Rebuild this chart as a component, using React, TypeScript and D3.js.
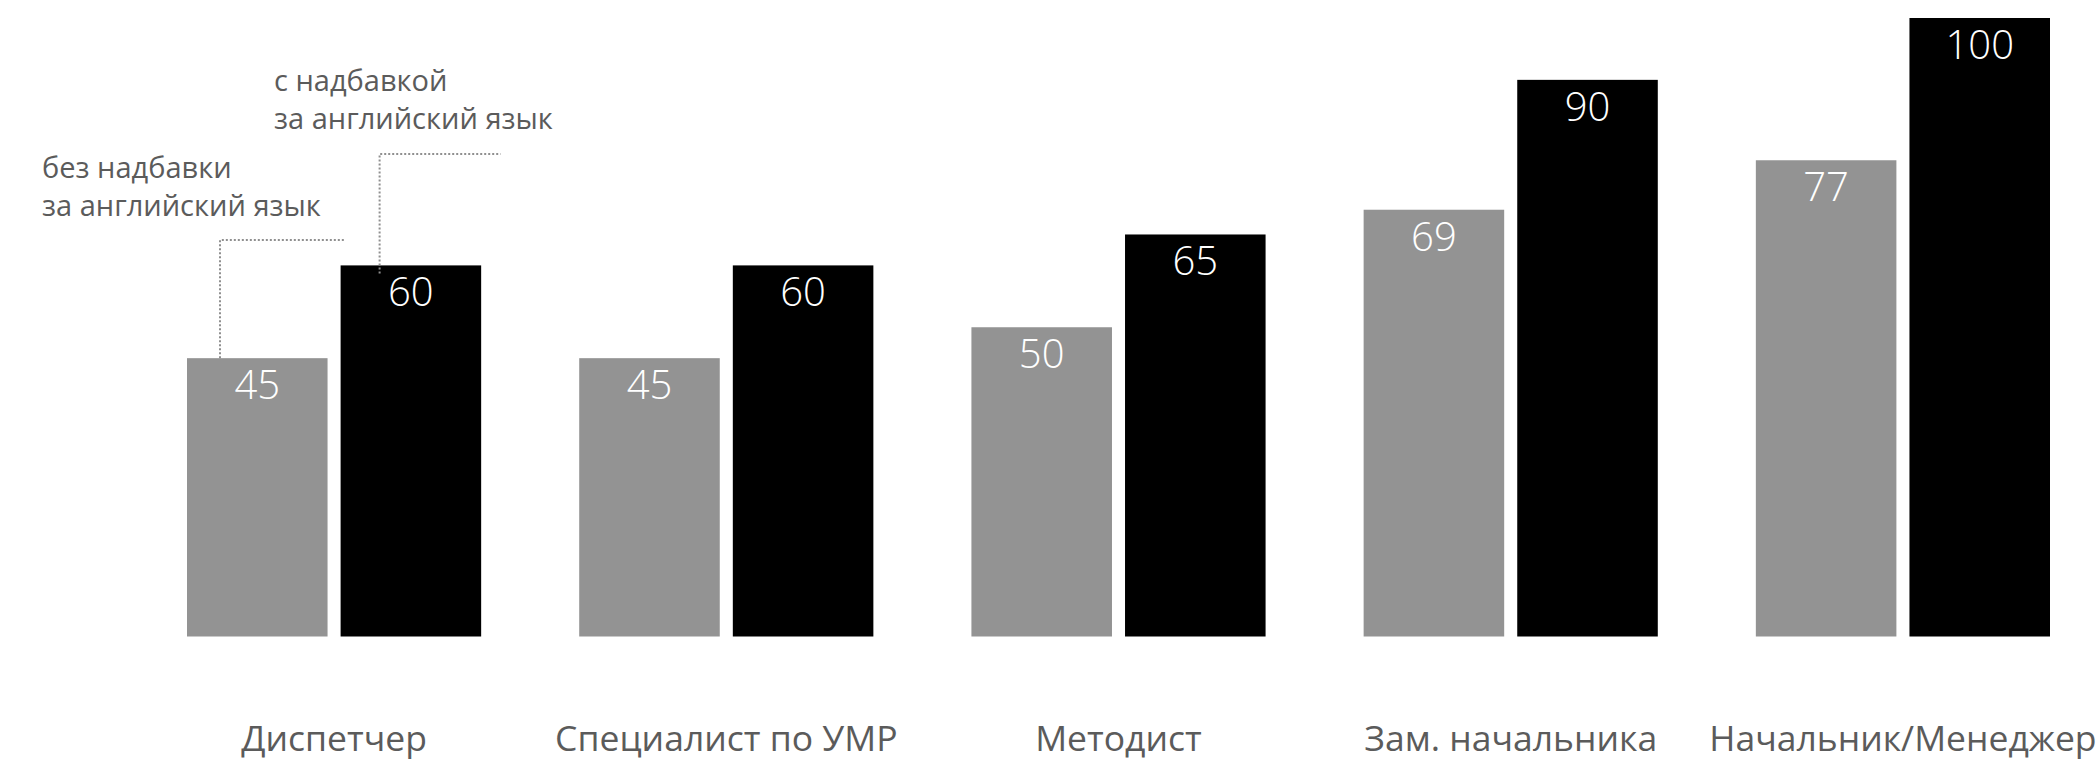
import React from "react";
import * as d3 from "d3";

const categories = ["Диспетчер", "Специалист по УМР", "Методист", "Зам. начальника", "Начальник/Менеджер"];
const seriesKeys = ["without", "with"];
const withoutBonus = [45, 45, 50, 69, 77];
const withBonus = [60, 60, 65, 90, 100];
const legendWithout = ["без надбавки", "за английский язык"];
const legendWith = ["с надбавкой", "за английский язык"];

const W = 2100;
const H = 761;
const FONT = "'Open Sans', 'Noto Sans', sans-serif";
const TEXT_COLOR = "#5b5b5b";
const GRAY = "#939393";

export default function App() {
  const x0 = d3.scaleBand<string>().domain(categories).range([187, 2050]).paddingInner(0.25).paddingOuter(0);
  const x1 = d3.scaleBand<string>().domain(seriesKeys).range([0, x0.bandwidth()]).paddingInner(0.085);
  const y = d3.scaleLinear().domain([0, 100]).range([636.5, 18]);

  const rows = categories.map((c, i) => ({ c, vals: [withoutBonus[i], withBonus[i]] }));

  // annotation anchors
  const gx = (x0(categories[0]) ?? 0) + (x1("without") ?? 0);
  const bx = (x0(categories[0]) ?? 0) + (x1("with") ?? 0);
  const l1x = gx + 33;
  const l2x = bx + 39;
  const l1y = 240;
  const l2y = 154;

  return (
    <svg width={W} height={H} style={{ position: "absolute", left: 0, top: 0, display: "block" }}>
      <rect width={W} height={H} fill="#fff" />
      {rows.map((r) => (
        <g key={r.c} transform={`translate(${x0(r.c)},0)`}>
          {r.vals.map((v, j) => {
            const k = seriesKeys[j];
            const bx0 = x1(k) ?? 0;
            return (
              <g key={k}>
                <rect x={bx0} y={y(v)} width={x1.bandwidth()} height={y(0) - y(v)} fill={j === 0 ? GRAY : "#000"} />
                <text
                  x={bx0 + x1.bandwidth() / 2}
                  y={y(v) + 41}
                  textAnchor="middle"
                  fill="#fff"
                  fontFamily={FONT}
                  fontWeight={300}
                  fontSize={40}
                >
                  {v}
                </text>
              </g>
            );
          })}
          <text
            x={x0.bandwidth() / 2}
            y={751}
            textAnchor="middle"
            fill={TEXT_COLOR}
            fontFamily={FONT}
            fontSize={35.5}
          >
            {r.c}
          </text>
        </g>
      ))}
      {/* annotation lines */}
      <path
        d={`M${l1x},${y(withoutBonus[0])} V${l1y} H${l1x + 125}`}
        fill="none"
        stroke="#8f8f8f"
        strokeWidth={2}
        strokeDasharray="2,2"
      />
      <path
        d={`M${l2x},${y(withBonus[0]) + 8} V${l2y} H${l2x + 121}`}
        fill="none"
        stroke="#8f8f8f"
        strokeWidth={2}
        strokeDasharray="2,2"
      />
      <text fill={TEXT_COLOR} fontFamily={FONT} fontSize={29}>
        {legendWithout.map((t, i) => (
          <tspan key={i} x={42} y={178 + i * 38}>
            {t}
          </tspan>
        ))}
      </text>
      <text fill={TEXT_COLOR} fontFamily={FONT} fontSize={29}>
        {legendWith.map((t, i) => (
          <tspan key={i} x={274} y={91 + i * 38}>
            {t}
          </tspan>
        ))}
      </text>
    </svg>
  );
}
